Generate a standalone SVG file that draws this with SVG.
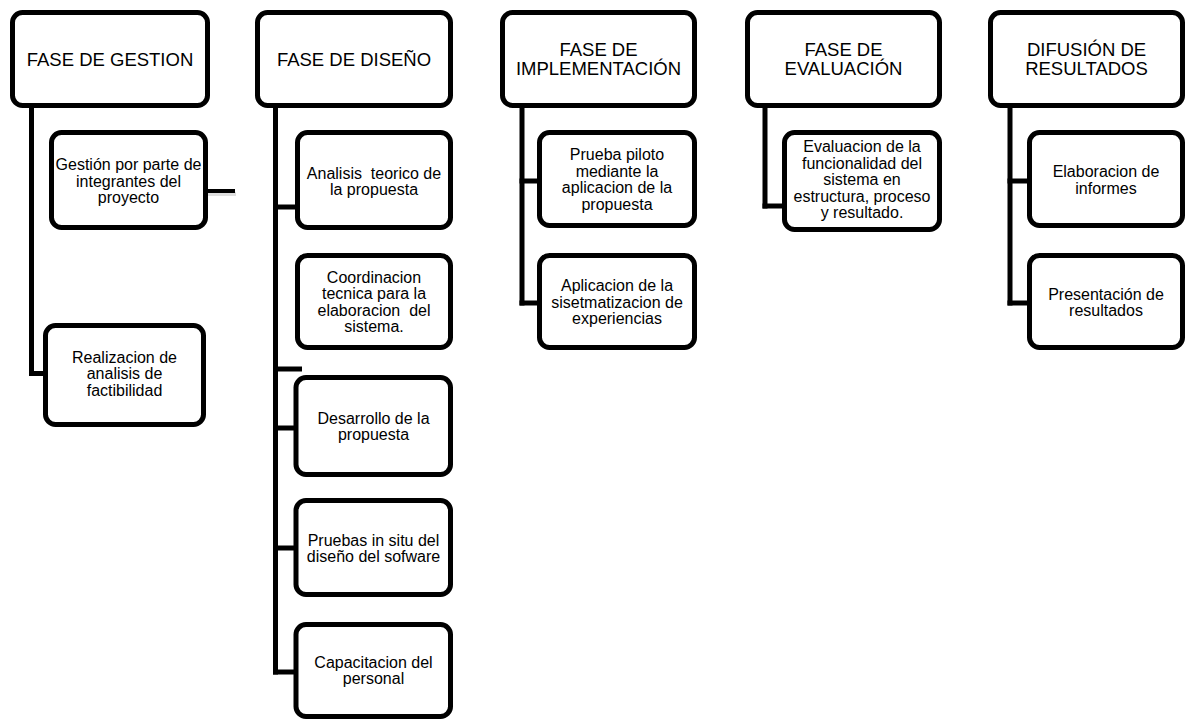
<svg xmlns="http://www.w3.org/2000/svg" width="1186" height="719" viewBox="0 0 1186 719">
<style>
.box{fill:#fff;stroke:#000;stroke-width:5;}
.ln{stroke:#000;stroke-width:5;fill:none;}
.smear{fill:#d9d9d9;}
.h{font-family:"Liberation Sans",Arial,sans-serif;font-size:18.5px;fill:#000;text-anchor:middle;}
.t{font-family:"Liberation Sans",Arial,sans-serif;font-size:16px;fill:#000;text-anchor:middle;}
</style>
<rect width="1186" height="719" fill="#fff"/>
<g id="connectors">
  <path class="ln" d="M31.5 106 V373.5 H46"/>
  <rect class="smear" x="48" y="368" width="9" height="5"/>
  <rect x="208" y="192" width="28" height="4" fill="#c8c8c8" opacity="0.6"/>
  <path class="ln" style="stroke-width:4" d="M206 191 H235"/>
  <path class="ln" d="M275.5 106 V674.5"/>
  <path class="ln" d="M273 207 H297"/>
  <rect class="smear" x="297" y="205" width="5" height="5"/>
  <path class="ln" d="M273 369 H302"/>
  <path class="ln" d="M273 428 H296"/>
  <path class="ln" d="M273 548 H296"/>
  <path class="ln" d="M273 672 H296"/>
  <path class="ln" d="M522 106 V305.5"/>
  <path class="ln" d="M519.5 181 H539"/>
  <path class="ln" d="M519.5 303 H539"/>
  <path class="ln" d="M765 106 V208.5"/>
  <path class="ln" d="M762.5 206 H784"/>
  <rect class="smear" x="785" y="204" width="5" height="5"/>
  <path class="ln" d="M1010 106 V305.5"/>
  <path class="ln" d="M1007.5 181 H1029"/>
  <path class="ln" d="M1007.5 303 H1029"/>
</g>
<g id="h-gestion">
  <rect class="box" x="12.5" y="12.5" width="195" height="93" rx="10"/>
  <text class="h" x="110" y="65.5">FASE DE GESTION</text>
</g>
<g id="c-gestion1">
  <rect class="box" x="51.5" y="132.5" width="154" height="95" rx="10"/>
  <text class="t" x="128.5" y="170">Gestión por parte de</text>
  <text class="t" x="128.5" y="186.5">integrantes del</text>
  <text class="t" x="128.5" y="203">proyecto</text>
</g>
<g id="c-gestion2">
  <rect class="box" x="45.5" y="325.5" width="158" height="99" rx="10"/>
  <text class="t" x="124.5" y="362.5">Realizacion de</text>
  <text class="t" x="124.5" y="379">analisis de</text>
  <text class="t" x="124.5" y="395.5">factibilidad</text>
</g>
<g id="h-diseno">
  <rect class="box" x="257.5" y="12.5" width="193" height="93" rx="10"/>
  <text class="h" x="354" y="66">FASE DE DISEÑO</text>
</g>
<g id="c-diseno1">
  <rect class="box" x="297.5" y="132.5" width="153" height="95" rx="10"/>
  <text class="t" x="374" y="178.5" xml:space="preserve">Analisis  teorico de</text>
  <text class="t" x="374" y="195">la propuesta</text>
</g>
<g id="c-diseno2">
  <rect class="box" x="297.5" y="255.5" width="153" height="92" rx="10"/>
  <text class="t" x="374" y="282.5">Coordinacion</text>
  <text class="t" x="374" y="299">tecnica para la</text>
  <text class="t" x="374" y="315.5" xml:space="preserve">elaboracion  del</text>
  <text class="t" x="374" y="332">sistema.</text>
</g>
<g id="c-diseno3">
  <rect class="box" x="296" y="377.5" width="154.5" height="97" rx="10"/>
  <text class="t" x="373.5" y="423.5">Desarrollo de la</text>
  <text class="t" x="373.5" y="440">propuesta</text>
</g>
<g id="c-diseno4">
  <rect class="box" x="296" y="500.5" width="154.5" height="94" rx="10"/>
  <text class="t" x="373.5" y="545.5">Pruebas in situ del</text>
  <text class="t" x="373.5" y="562">diseño del sofware</text>
</g>
<g id="c-diseno5">
  <rect class="box" x="296" y="624.5" width="154.5" height="92" rx="10"/>
  <text class="t" x="373.5" y="667.5">Capacitacion del</text>
  <text class="t" x="373.5" y="684">personal</text>
</g>
<g id="h-implementacion">
  <rect class="box" x="502.5" y="12.5" width="192" height="93" rx="10"/>
  <text class="h" x="598.5" y="55.5">FASE DE</text>
  <text class="h" x="598.5" y="75">IMPLEMENTACIÓN</text>
</g>
<g id="c-impl1">
  <rect class="box" x="539.5" y="132.5" width="155" height="93" rx="10"/>
  <text class="t" x="617" y="160">Prueba piloto</text>
  <text class="t" x="617" y="176.5">mediante la</text>
  <text class="t" x="617" y="193">aplicacion de la</text>
  <text class="t" x="617" y="209.5">propuesta</text>
</g>
<g id="c-impl2">
  <rect class="box" x="539.5" y="255.5" width="155" height="92" rx="10"/>
  <text class="t" x="617" y="291">Aplicacion de la</text>
  <text class="t" x="617" y="307.5">sisetmatizacion de</text>
  <text class="t" x="617" y="324">experiencias</text>
</g>
<g id="h-evaluacion">
  <rect class="box" x="747.5" y="12.5" width="192" height="93" rx="10"/>
  <text class="h" x="843.5" y="55.5">FASE DE</text>
  <text class="h" x="843.5" y="75">EVALUACIÓN</text>
</g>
<g id="c-eval1">
  <rect class="box" x="784.5" y="132.5" width="155" height="97" rx="10"/>
  <text class="t" x="862" y="152">Evaluacion de la</text>
  <text class="t" x="862" y="168.5">funcionalidad del</text>
  <text class="t" x="862" y="185">sistema en</text>
  <text class="t" x="862" y="201.5">estructura, proceso</text>
  <text class="t" x="862" y="218">y resultado.</text>
</g>
<g id="h-difusion">
  <rect class="box" x="990.5" y="12.5" width="192" height="93" rx="10"/>
  <text class="h" x="1086.5" y="55.5">DIFUSIÓN DE</text>
  <text class="h" x="1086.5" y="75">RESULTADOS</text>
</g>
<g id="c-dif1">
  <rect class="box" x="1029.5" y="132.5" width="153" height="93" rx="10"/>
  <text class="t" x="1106" y="177">Elaboracion de</text>
  <text class="t" x="1106" y="193.5">informes</text>
</g>
<g id="c-dif2">
  <rect class="box" x="1029.5" y="255.5" width="153" height="92" rx="10"/>
  <text class="t" x="1106" y="299.5">Presentación de</text>
  <text class="t" x="1106" y="316">resultados</text>
</g>
</svg>
